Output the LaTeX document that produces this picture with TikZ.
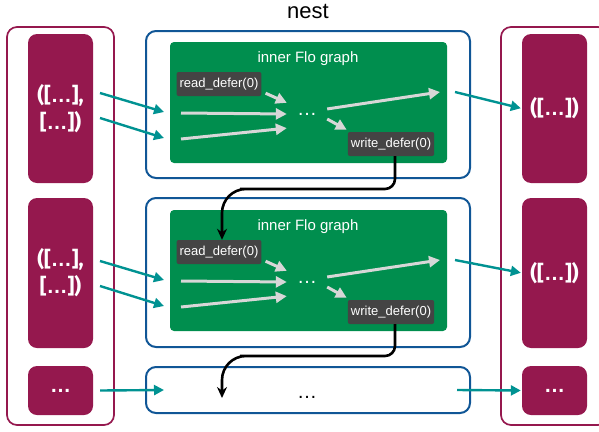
\documentclass[tikz,border=0pt]{standalone}
\usepackage{fontspec}
\setmainfont{Liberation Sans}
\newfontfamily\boxfont{Fira Sans}
\newfontfamily\dotfont{Liberation Sans}
\newcommand\flodots{{\dotfont …}}
\usetikzlibrary{arrows.meta}
\definecolor{flomaroon}{RGB}{149,24,78}
\definecolor{flonavy}{RGB}{16,86,150}
\definecolor{flogreen}{RGB}{0,142,78}
\definecolor{floteal}{RGB}{0,146,146}
\definecolor{deferbg}{RGB}{68,68,68}
\definecolor{edgegray}{RGB}{215,215,215}

\begin{document}
\begin{tikzpicture}[
        x=1pt, y=-1pt,
        stack/.style={rectangle, draw=flomaroon, line width=1.7pt, rounded corners=10pt, minimum width=107pt, minimum height=398pt},
        cell/.style={rectangle, fill=flomaroon, rounded corners=9pt, minimum width=65pt, inner sep=0pt, text=white, align=center, font=\boxfont\bfseries\fontsize{21}{27}\selectfont},
        nestbox/.style={rectangle, draw=flonavy, line width=2pt, rounded corners=10pt, minimum width=324pt},
        flograph/.style={rectangle, fill=flogreen, rounded corners=4pt, minimum width=277pt, minimum height=121pt},
        defer/.style={rectangle, fill=deferbg, rounded corners=2pt, text=white, inner xsep=3pt, inner ysep=0pt, minimum height=24pt, font=\fontsize{13}{15}\selectfont},
        dots/.style={rectangle, minimum width=40pt, minimum height=30pt, inner sep=0pt, font=\fontsize{20}{22}\selectfont},
        feed/.style={-{Triangle[length=10pt,width=10pt]}, floteal, line width=2.4pt},
        inflow/.style={-{Triangle[length=11pt,width=11pt]}, edgegray, line width=3pt},
        handoff/.style={-{Stealth[length=11pt,width=10pt]}, black, line width=2.6pt}
    ]
        \useasboundingbox (0,0) rectangle (599,431);

        \node[font=\fontsize{22}{26}\selectfont] (title) at (308,11) {nest};

        \node[stack] (lhs) at (60.5,226) {};
        \node[stack] (rhs) at (554.5,226) {};
        \node[cell, minimum height=149pt] (in1) at (60.5,108.5) {([\flodots],\\{}[\flodots])};
        \node[cell, minimum height=150pt] (in2) at (60.5,273) {([\flodots],\\{}[\flodots])};
        \node[cell, minimum height=49pt] (in3) at (60.5,390.5) {\flodots};
        \node[cell, minimum height=149pt] (out1) at (554.5,108.5) {([\flodots])};
        \node[cell, minimum height=150pt] (out2) at (554.5,273) {([\flodots])};
        \node[cell, minimum height=49pt] (out3) at (554.5,390.5) {\flodots};

        \node[nestbox, minimum height=147pt] (flo1) at (308,104.5) {};
        \node[nestbox, minimum height=149pt] (flo2) at (308,272.5) {};
        \node[nestbox, minimum height=46pt] (flo3) at (308,390) {};

        \foreach \i/\y in {1/0, 2/168} {
            \node[flograph] (g\i) at (308.5,102.5+\y) {};
            \node[text=white, font=\fontsize{15}{18}\selectfont] (lbl\i) at (308,59+\y) {inner Flo graph};
            \node[defer] (rd\i) at (219,84+\y) {read\_defer(0)};
            \node[defer] (wr\i) at (391,144+\y) {write\_defer(0)};
            \node[dots, text=white] (dots\i) at (307,114+\y) {…};

            \coordinate (ina\i) at (181,113+\y);
            \coordinate (inb\i) at (181,139+\y);
            \coordinate (outa\i) at (440,92+\y);
            \draw[inflow] ([shift={(4,-3)}]rd\i.south east) -- (dots\i.151);
            \draw[inflow] (ina\i) -- (dots\i.west);
            \draw[inflow] (inb\i) -- (dots\i.-145);
            \draw[inflow] (dots\i.14) -- (outa\i);
            \draw[inflow] (dots\i.-14) -- ([shift={(-1,-2)}]wr\i.north west);

            \coordinate (la\i) at (100,93+\y);
            \coordinate (lb\i) at (100,118+\y);
            \coordinate (ta\i) at (164,112+\y);
            \coordinate (tb\i) at (164,138+\y);
            \coordinate (ra\i) at (455,92+\y);
            \draw[feed] (la\i) -- (ta\i);
            \draw[feed] (lb\i) -- (tb\i);
            \draw[feed, shorten >=1pt] (ra\i) -- (out\i.west);
        }

        \node[font=\fontsize{20}{22}\selectfont] (dots3) at (307,397) {…};
        \draw[feed] ([xshift=7pt]in3.east) -- ([xshift=19pt]flo3.west);
        \draw[feed, shorten >=1pt] ([xshift=-14pt]flo3.east) -- (out3.west);

        \coordinate (turn1) at (250,189);
        \coordinate (turn2) at (250,356);
        \coordinate (land) at (222,398);
        \draw[handoff, rounded corners=10pt] ([xshift=4pt]wr1.south) |- (turn1) [rounded corners=24pt] -| ([xshift=3pt]rd2.north);
        \draw[handoff, rounded corners=10pt] ([xshift=4pt]wr2.south) |- (turn2) [rounded corners=24pt] -| (land);
    \end{tikzpicture}
\end{document}
